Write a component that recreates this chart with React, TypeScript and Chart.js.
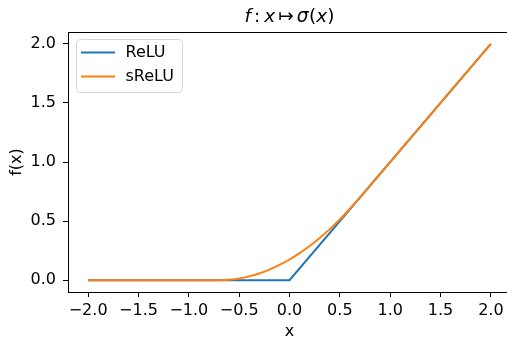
import React, { useEffect, useRef } from "react";
import { Chart, registerables } from "chart.js";

Chart.register(...registerables);

// ---- data ----
const seriesNames = ["ReLU", "sReLU"];
const seriesColors = ["#1f77b4", "#ff7f0e"];

const reluX = [-2.0, 0.0, 2.0];
const reluY = [0.0, 0.0, 2.0];

const sreluX = [
  -2.0, -1.9, -1.8, -1.7, -1.6, -1.5, -1.4, -1.3, -1.2, -1.1, -1.0, -0.9, -0.8, -0.7,
  -0.6, -0.5, -0.4, -0.3, -0.2, -0.1, 0.0, 0.1, 0.2, 0.3, 0.4, 0.5, 0.6, 0.7, 0.8, 0.9,
  1.0, 1.1, 1.2, 1.3, 1.4, 1.5, 1.6, 1.7, 1.8, 1.9, 2.0,
];
const sreluY = [
  0.0, 0.0, 0.0, 0.0, 0.0, 0.0, 0.0, 0.0, 0.0, 0.0, 0.0, 0.0, 0.0, 0.0,
  0.004, 0.014, 0.032, 0.057, 0.089, 0.129, 0.175, 0.229, 0.289, 0.357, 0.432, 0.514, 0.604, 0.7, 0.8, 0.9,
  1.0, 1.1, 1.2, 1.3, 1.4, 1.5, 1.6, 1.7, 1.8, 1.9, 2.0,
];

const xTicks = [-2.0, -1.5, -1.0, -0.5, 0.0, 0.5, 1.0, 1.5, 2.0];
const yTicks = [0.0, 0.5, 1.0, 1.5, 2.0];
const xLabel = "x";
const yLabel = "f(x)";
// title pieces: [text, italic]
const titleParts: [string, boolean][] = [
  ["f", true],
  [":", false],
  ["x", true],
  ["\u21A6", false],
  ["\u03C3", true],
  ["(", false],
  ["x", true],
  [")", false],
];
const titleGaps = [3, 4, 3, 3, 0.5, 0, 0, 0];

const FONT = "'DejaVu Sans', sans-serif";

const fmt = (v: number) => (v < 0 ? "\u2212" : "") + Math.abs(v).toFixed(1);

const decorPlugin = {
  id: "decor",
  afterDraw(chart: any) {
    const { ctx, chartArea } = chart;
    const { left, right, top } = chartArea;
    ctx.save();
    // top & right spines
    ctx.strokeStyle = "#000";
    ctx.lineWidth = 1;
    ctx.beginPath();
    ctx.moveTo(left, Math.round(top) + 0.5);
    ctx.lineTo(right, Math.round(top) + 0.5);
    ctx.moveTo(Math.round(right) - 0.5, top);
    ctx.lineTo(Math.round(right) - 0.5, chartArea.bottom);
    ctx.stroke();

    // legend
    const lx = 76.5, ly = 39.5, lw = 106, lh = 53, r = 4;
    ctx.beginPath();
    ctx.moveTo(lx + r, ly);
    ctx.lineTo(lx + lw - r, ly);
    ctx.arcTo(lx + lw, ly, lx + lw, ly + r, r);
    ctx.lineTo(lx + lw, ly + lh - r);
    ctx.arcTo(lx + lw, ly + lh, lx + lw - r, ly + lh, r);
    ctx.lineTo(lx + r, ly + lh);
    ctx.arcTo(lx, ly + lh, lx, ly + lh - r, r);
    ctx.lineTo(lx, ly + r);
    ctx.arcTo(lx, ly, lx + r, ly, r);
    ctx.closePath();
    ctx.fillStyle = "rgba(255,255,255,0.8)";
    ctx.fill();
    ctx.strokeStyle = "#d6d6d6";
    ctx.lineWidth = 1;
    ctx.stroke();

    const rows = [52.5, 76.5];
    chart.data.datasets.forEach((ds: any, i: number) => {
      const y = rows[i];
      ctx.strokeStyle = ds.borderColor;
      ctx.lineWidth = 2;
      ctx.beginPath();
      ctx.moveTo(81, y);
      ctx.lineTo(115, y);
      ctx.stroke();
      ctx.fillStyle = "#000";
      ctx.font = `16px ${FONT}`;
      ctx.textBaseline = "middle";
      ctx.textAlign = "left";
      ctx.fillText(ds.label, 125.5, y + 0.5);
    });

    // title (mathtext-like)
    const size = 18.5;
    const fontFor = (it: boolean) => `${it ? "italic " : ""}${size}px ${FONT}`;
    let total = 0;
    const widths = titleParts.map(([t, it], i) => {
      ctx.font = fontFor(it);
      const w = ctx.measureText(t).width;
      total += w + (i < titleParts.length - 1 ? titleGaps[i] : 0);
      return w;
    });
    const cx = (left + right) / 2;
    let x = cx - total / 2;
    ctx.fillStyle = "#000";
    ctx.textAlign = "left";
    ctx.textBaseline = "alphabetic";
    titleParts.forEach(([t, it], i) => {
      ctx.font = fontFor(it);
      ctx.fillText(t, x, 22);
      x += widths[i] + titleGaps[i];
    });
    ctx.restore();
  },
};

export default function App() {
  const ref = useRef<HTMLCanvasElement | null>(null);
  useEffect(() => {
    if (!ref.current) return;
    const chart = new Chart(ref.current, {
      type: "line",
      data: {
        datasets: [
          {
            label: seriesNames[0],
            data: reluX.map((x, i) => ({ x, y: reluY[i] })),
            borderColor: seriesColors[0],
            backgroundColor: seriesColors[0],
            borderWidth: 2,
            pointRadius: 0,
            tension: 0,
            order: 1,
          },
          {
            label: seriesNames[1],
            data: sreluX.map((x, i) => ({ x, y: sreluY[i] })),
            borderColor: seriesColors[1],
            backgroundColor: seriesColors[1],
            borderWidth: 2,
            pointRadius: 0,
            cubicInterpolationMode: "monotone",
            order: 0,
          },
        ],
      },
      options: {
        responsive: false,
        animation: false,
        devicePixelRatio: 1,
        layout: { padding: { top: 32, left: 0, right: 0, bottom: 0 } },
        plugins: {
          legend: { display: false },
          title: { display: false },
          tooltip: { enabled: false },
        },
        scales: {
          x: {
            type: "linear",
            min: -2.2,
            max: 2.2,
            afterBuildTicks: (s: any) => {
              s.ticks = xTicks.map((v) => ({ value: v }));
            },
            afterFit: (s: any) => {
              s.height = 46;
            },
            ticks: {
              callback: (v: any) => fmt(Number(v)),
              color: "#000",
              font: { family: FONT, size: 16 },
              padding: 4,
              maxRotation: 0,
              autoSkip: false,
            },
            grid: { drawOnChartArea: false, tickLength: 5, color: "#000", tickWidth: 1 },
            border: { display: true, color: "#000", width: 1 },
            title: {
              display: true,
              text: xLabel,
              color: "#000",
              font: { family: FONT, size: 16, lineHeight: 0.75 },
              padding: { top: 0, bottom: 0 },
            },
          },
          y: {
            type: "linear",
            min: -0.1,
            max: 2.1,
            afterBuildTicks: (s: any) => {
              s.ticks = yTicks.map((v) => ({ value: v }));
            },
            afterFit: (s: any) => {
              s.width = 68;
            },
            ticks: {
              callback: (v: any) => fmt(Number(v)),
              color: "#000",
              font: { family: FONT, size: 16 },
              padding: 7,
              autoSkip: false,
            },
            grid: { drawOnChartArea: false, tickLength: 5, color: "#000", tickWidth: 1 },
            border: { display: true, color: "#000", width: 1 },
            title: {
              display: true,
              text: yLabel,
              color: "#000",
              font: { family: FONT, size: 16, lineHeight: 1 },
              padding: { top: 9, bottom: 0 },
            },
          },
        },
      },
      plugins: [decorPlugin],
    } as any);
    return () => chart.destroy();
  }, []);

  return (
    <div
      style={{
        position: "fixed",
        left: 0,
        top: 0,
        width: 507,
        height: 338,
        overflow: "hidden",
        background: "#fff",
      }}
    >
      <canvas ref={ref} width={511} height={338} style={{ display: "block" }} />
    </div>
  );
}
